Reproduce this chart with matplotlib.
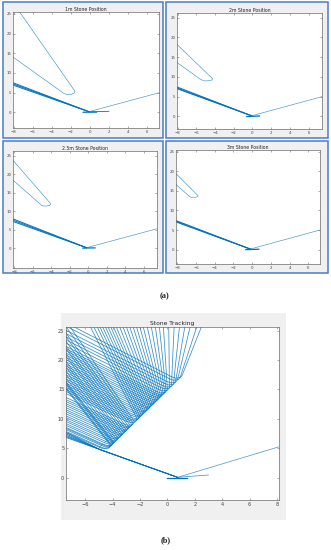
import matplotlib
matplotlib.use("Agg")
import matplotlib.pyplot as plt
from matplotlib.patches import Rectangle

W, H = 331, 550
BLUE = "#0072BD"
FRAME = "#4A7CC9"
FIGBG = "#F0F0F0"

# ---------------- data: four stone-position panels ----------------
titles = ["1m Stone Position", "2m Stone Position", "2.5m Stone Position", "3m Stone Position"]
xlims = [[-8.07, 7.26], [-8.07, 7.43], [-8.12, 7.4], [-8.15, 7.26]]
ylims = [[-4.0, 25.5], [-3.2, 26.2], [-5.4, 26.3], [-3.66, 25.4]]

loop1_x = [-7.4, -1.58, -1.65, -1.95, -2.35, -2.7, -8.1]
loop1_y = [25.6, 5.4, 4.9, 4.55, 4.5, 4.75, 14.1]
loop2_x = [-8.1, -4.25, -4.4, -4.8, -5.2, -5.6, -8.1]
loop2_y = [18.3, 9.5, 9.15, 9.0, 9.0, 9.45, 13.7]
loop3_x = [-8.2, -4.04, -4.2, -4.5, -4.87, -5.05, -8.2]
loop3_y = [24.0, 11.96, 11.55, 11.4, 11.4, 11.6, 18.6]
loop4_x = [-8.2, -5.77, -5.9, -6.1, -6.55, -6.7, -8.2]
loop4_y = [19.5, 13.7, 13.45, 13.35, 13.35, 13.55, 16.7]
loops_x = [loop1_x, loop2_x, loop3_x, loop4_x]
loops_y = [loop1_y, loop2_y, loop3_y, loop4_y]

throw_start_y = [[7.6, 7.3, 7.0], [7.55, 7.3, 7.1], [8.0, 7.65, 7.3], [7.5, 7.3, 7.15]]
throw_end = [[-0.1, 0.15], [-0.1, 0.15], [-0.2, 0.1], [-0.2, 0.15]]
exit_end = [[7.4, 5.05], [7.5, 5.05], [7.5, 5.3], [7.4, 5.1]]
stone_x = [[-0.7, 0.7], [-0.6, 0.75], [-0.6, 0.72], [-0.68, 0.71]]
stone_y = [[0.0, 0.05], [-0.05, 0.1], [0.0, 0.05], [0.0, 0.1]]
tail1_x = [0.0, 2.0]
tail1_y = [0.1, 0.25]

# ---------------- data: stone tracking panel ----------------
trk_xlim = [-7.4, 8.15]
trk_ylim = [-3.8, 25.6]
# turning points of each tracked trajectory
trk_turn_x = [-4.15, -4.1, -4.0, -3.95, -3.9, -3.8, -3.7, -3.6, -3.5, -3.4,
              -3.3, -3.2, -3.1, -3.0, -2.9, -2.8, -2.7, -2.6, -2.5, -2.4,
              -2.2, -2.1, -2.0, -1.9, -1.8, -1.7, -1.6, -1.5, -1.4, -1.3,
              -1.2, -1.1, -1.0, -0.9, -0.8, -0.7, -0.6, -0.5, -0.4, -0.3,
              -0.2, -0.1, 0.0, 0.15, 0.3, 0.45, 0.6, 0.75, 0.95, 1.1]
trk_turn_y = [5.5, 5.6, 5.8, 5.95, 6.05, 6.3, 6.5, 6.75, 6.95, 7.2,
              7.4, 7.65, 7.9, 8.1, 8.35, 8.6, 8.8, 9.05, 9.25, 9.5,
              9.95, 10.2, 10.4, 10.65, 10.9, 11.1, 11.35, 11.55, 11.8, 12.0,
              12.25, 12.5, 12.7, 12.95, 13.15, 13.4, 13.6, 13.85, 14.1, 14.3,
              14.55, 14.75, 15.0, 15.35, 15.7, 16.0, 16.35, 16.7, 17.15, 17.5]
# entry point of each trajectory (left edge, or above the top edge)
trk_in_x = [-7.6, -7.6, -7.6, -7.6, -7.6, -7.6, -7.6, -7.6, -7.6, -7.6,
            -7.6, -7.6, -7.6, -7.6, -7.6, -7.6, -7.6, -7.6, -7.5, -7.2,
            -5.7, -5.45, -5.2, -5.0, -4.8, -4.6, -4.4, -4.2, -4.0, -3.8,
            -3.55, -3.3, -3.05, -2.8, -2.55, -2.3, -2.05, -1.8, -1.5, -1.2,
            -0.9, -0.6, -0.3, 0.1, 0.5, 0.9, 1.3, 1.7, 2.2, 2.55]
trk_in_y = [15.65, 15.9, 16.4, 16.7, 16.9, 17.5, 18.1, 18.7, 19.4, 19.9,
            20.4, 21.2, 21.7, 22.5, 23.0, 23.8, 24.6, 25.2, 26.0, 26.0,
            26.0, 26.0, 26.0, 26.0, 26.0, 26.0, 26.0, 26.0, 26.0, 26.0,
            26.0, 26.0, 26.0, 26.0, 26.0, 26.0, 26.0, 26.0, 26.0, 26.0,
            26.0, 26.0, 26.0, 26.0, 26.0, 26.0, 26.0, 26.0, 26.0, 26.0]
# height at which each trajectory leaves through the left edge after turning
trk_exit_y = [7.9, 8.07, 8.37, 8.58, 8.74, 9.09, 9.39, 9.75, 10.05, 10.4,
              10.7, 11.06, 11.42, 11.73, 12.1, 12.46, 12.77, 13.14, 13.46, 13.83,
              14.48, 14.85, 15.18, 15.55, 15.93, 16.25, 16.63, 16.96, 17.34, 17.68,
              18.06, 18.45, 18.79, 19.17, 19.51, 19.91, 20.25, 20.64, 21.04, 21.39,
              21.79, 22.13, 22.53, 23.08, 23.64, 24.15, 24.71, 25.27, 25.98, 26.55]
trk_throw_y = [7.0, 7.2, 7.4, 7.65, 7.9]
trk_knee = [-4.9, 4.75]
trk_end = [0.75, 0.05]
trk_exit_end = [8.3, 5.35]
trk_tail_x = [0.75, 3.0]
trk_tail_y = [0.05, 0.45]
trk_stone_x = [0.0, 1.45]
trk_stone_y = [-0.05, -0.05]

xt_top = [-8, -6, -4, -2, 0, 2, 4, 6]
yt = [0, 5, 10, 15, 20, 25]
xt_trk = [-6, -4, -2, 0, 2, 4, 6, 8]

# ---------------- layout (pixels) ----------------
borders = [(3, 2, 163, 138), (166, 2, 328, 138), (3, 141, 163, 273), (166, 141, 328, 273)]
axboxes = [(13, 12, 159, 128), (177, 13, 322, 129), (13, 151, 157, 268), (176, 150, 320, 264)]
trk_bg = (61, 313, 286, 520)
trk_box = (66, 327, 279, 500)


def frac(box):
    l, t, r, b = box
    return [l / W, 1 - b / H, (r - l) / W, (b - t) / H]


fig = plt.figure(figsize=(W / 100, H / 100), dpi=100)
fig.patch.set_facecolor("white")


def style_axes(ax, xt, fs):
    ax.set_facecolor("white")
    for s in ax.spines.values():
        s.set_color("#6b6b6b")
        s.set_linewidth(0.5)
    ax.set_xticks(xt)
    ax.set_yticks(yt)
    ax.tick_params(direction="in", length=1.4, width=0.4, labelsize=fs, colors="#6b6b6b",
                   labelcolor="#444444", pad=1.2, top=True, right=True)


for i in range(4):
    l, t, r, b = borders[i]
    fig.patches.append(Rectangle((l / W, 1 - b / H), (r - l) / W, (b - t) / H,
                                 transform=fig.transFigure, facecolor=FIGBG,
                                 edgecolor=FRAME, linewidth=1.1, zorder=-5))
    ax = fig.add_axes(frac(axboxes[i]))
    style_axes(ax, xt_top, 2.8)
    ax.set_xlim(xlims[i])
    ax.set_ylim(ylims[i])
    ax.set_title(titles[i], fontsize=3.3, pad=1.0, color="#222222")
    ax.plot(loops_x[i], loops_y[i], color=BLUE, lw=0.45, alpha=0.75, solid_joinstyle="round")
    for y0 in throw_start_y[i]:
        ax.plot([xlims[i][0] - 0.1, throw_end[i][0]], [y0, throw_end[i][1]], color=BLUE, lw=0.7)
    ax.plot([throw_end[i][0], exit_end[i][0]], [throw_end[i][1], exit_end[i][1]],
            color=BLUE, lw=0.45, alpha=0.75)
    ax.plot(stone_x[i], stone_y[i], color=BLUE, lw=0.9)
    if i == 0:
        ax.plot(tail1_x, tail1_y, color=BLUE, lw=0.6)

# ---------------- tracking panel ----------------
l, t, r, b = trk_bg
fig.patches.append(Rectangle((l / W, 1 - b / H), (r - l) / W, (b - t) / H,
                             transform=fig.transFigure, facecolor=FIGBG,
                             edgecolor="none", zorder=-5))
ax = fig.add_axes(frac(trk_box))
style_axes(ax, xt_trk, 3.6)
ax.set_xlim(trk_xlim)
ax.set_ylim(trk_ylim)
ax.set_title("Stone Tracking", fontsize=4.3, pad=1.5, color="#222222")
for k in range(len(trk_turn_x)):
    tx, ty = trk_turn_x[k], trk_turn_y[k]
    ax.plot([trk_in_x[k], tx, tx - 0.15, tx - 0.5, tx - 0.8],
            [trk_in_y[k], ty, ty - 0.5, ty - 0.6, ty - 0.35],
            color=BLUE, lw=0.55, alpha=0.8, solid_joinstyle="round")
    ax.plot([tx - 0.8, -7.6], [ty - 0.35, trk_exit_y[k]],
            color=BLUE, lw=0.55, alpha=0.8)
for y0 in trk_throw_y:
    ax.plot([-7.6, trk_knee[0], trk_end[0]], [y0, trk_knee[1], trk_end[1]], color=BLUE, lw=0.55)
ax.plot([trk_end[0], trk_exit_end[0]], [trk_end[1], trk_exit_end[1]], color=BLUE, lw=0.5, alpha=0.75)
ax.plot(trk_tail_x, trk_tail_y, color=BLUE, lw=0.5, alpha=0.8)
ax.plot(trk_stone_x, trk_stone_y, color=BLUE, lw=0.9)

fig.text(165 / W, 1 - 296 / H, "(a)", ha="center", va="center", fontsize=6,
         family="Liberation Serif", fontweight="bold", color="#222222")
fig.text(166 / W, 1 - 540 / H, "(b)", ha="center", va="center", fontsize=6,
         family="Liberation Serif", fontweight="bold", color="#222222")

fig.savefig("out.png", dpi=100)
